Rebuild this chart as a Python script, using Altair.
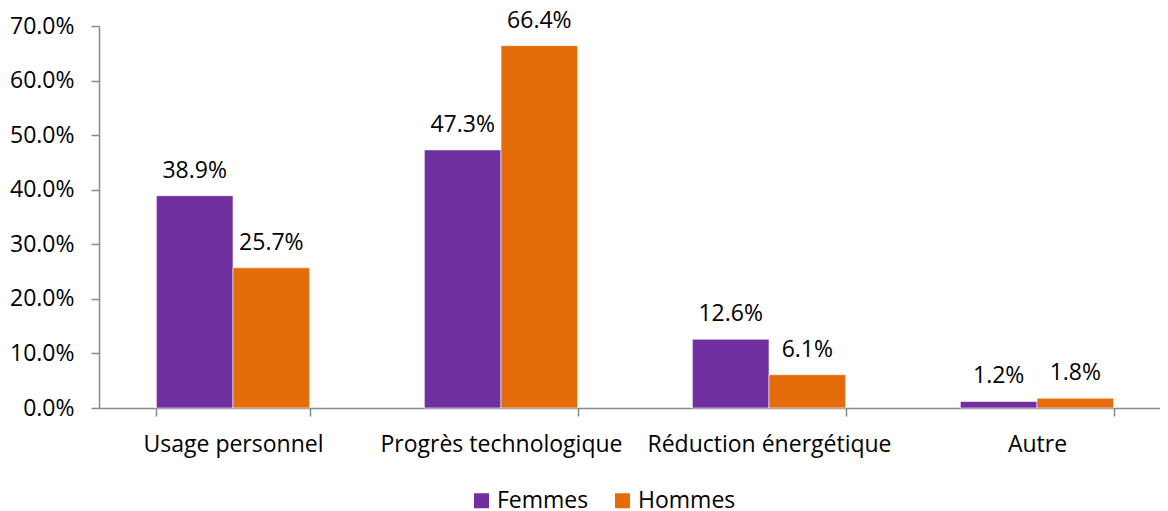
import altair as alt
import pandas as pd

categories = ["Usage personnel", "Progrès technologique", "Réduction énergétique", "Autre"]
genres = ["Femmes", "Hommes"]
femmes = [0.389, 0.473, 0.126, 0.012]
hommes = [0.257, 0.664, 0.061, 0.018]
colors = ["#7030A0", "#E46C0A"]
y_ticks = [0.0, 0.1, 0.2, 0.3, 0.4, 0.5, 0.6, 0.7]

rows = []
for i, c in enumerate(categories):
    rows.append({"cat": c, "genre": "Femmes", "val": femmes[i]})
    rows.append({"cat": c, "genre": "Hommes", "val": hommes[i]})
df = pd.DataFrame(rows)

FONT = "Open Sans"
FS = 23
AXIS_COLOR = "#898989"

x_enc = alt.X(
    "cat:N",
    sort=categories,
    title=None,
    scale=alt.Scale(paddingInner=0.428, paddingOuter=0.214, range=[0, 1072]),
    axis=alt.Axis(
        labelAngle=0,
        tickBand="extent",
        tickSize=8,
        tickColor=AXIS_COLOR,
        tickWidth=1.5,
        domainColor=AXIS_COLOR,
        domainWidth=1.5,
        labelFont=FONT,
        labelFontSize=FS,
        labelColor="#000000",
        labelPadding=35,
        labelBaseline="alphabetic",
        labelLimit=0,
        grid=False,
    ),
)
xoff_enc = alt.XOffset("genre:N", sort=genres, scale=alt.Scale(paddingInner=0, paddingOuter=0))
y_enc = alt.Y(
    "val:Q",
    title=None,
    scale=alt.Scale(domain=[0, 0.7], nice=False, zero=True),
    axis=alt.Axis(
        values=y_ticks,
        format=".1%",
        tickSize=8,
        tickColor=AXIS_COLOR,
        tickWidth=1.5,
        domainColor=AXIS_COLOR,
        domainWidth=1.5,
        labelFont=FONT,
        labelFontSize=FS,
        labelColor="#000000",
        labelPadding=17,
        labelLimit=0,
        grid=False,
    ),
)
color_enc = alt.Color(
    "genre:N",
    sort=genres,
    scale=alt.Scale(domain=genres, range=colors),
    legend=alt.Legend(
        title=None,
        orient="none",
        direction="horizontal",
        legendX=371,
        legendY=463,
        symbolType="square",
        symbolSize=225,
        symbolStrokeWidth=0,
        labelFont=FONT,
        labelFontSize=FS,
        labelColor="#000000",
        labelOffset=4,
        columnPadding=22,
        labelLimit=0,
    ),
)

bars = alt.Chart(df).mark_bar(stroke="white", strokeWidth=0.6).encode(
    x=x_enc, xOffset=xoff_enc, y=y_enc, color=color_enc
)
labels = alt.Chart(df).mark_text(
    font=FONT, fontSize=FS, color="#000000", baseline="alphabetic", dy=-18
).encode(
    x=alt.X("cat:N", sort=categories),
    xOffset=alt.XOffset("genre:N", sort=genres),
    y=alt.Y("val:Q"),
    text=alt.Text("val:Q", format=".1%"),
)

chart = (
    alt.layer(bars, labels)
    .properties(
        width=1061,
        height=382,
        autosize=alt.AutoSizeParams(type="none"),
        padding={"left": 91, "top": 18, "right": 0, "bottom": 110},
        background="white",
    )
    .configure_view(stroke=None)
)

chart.save("out.html", embed_options={"renderer": "svg", "actions": False})
